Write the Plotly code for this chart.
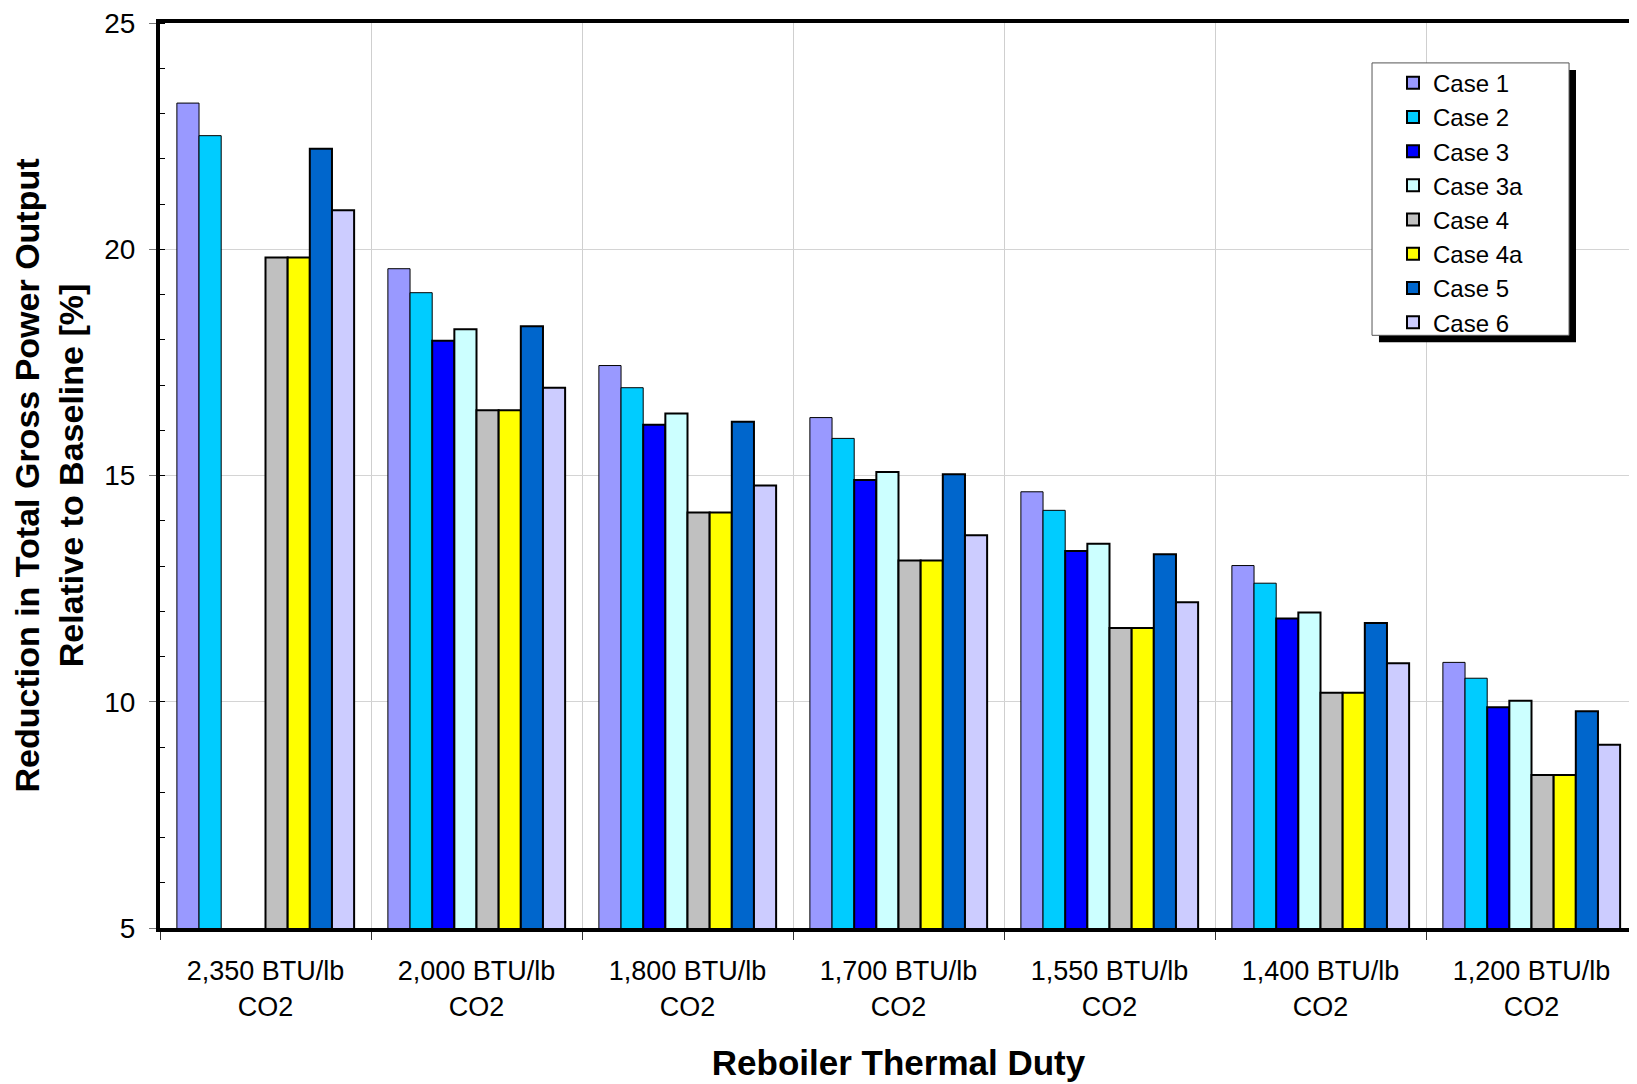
import plotly.graph_objects as go

categories = ["2,350 BTU/lb<br>CO2", "2,000 BTU/lb<br>CO2", "1,800 BTU/lb<br>CO2",
              "1,700 BTU/lb<br>CO2", "1,550 BTU/lb<br>CO2", "1,400 BTU/lb<br>CO2",
              "1,200 BTU/lb<br>CO2"]

case_1 = [23.23, 19.57, 17.43, 16.28, 14.64, 13.01, 10.87]
case_2 = [22.51, 19.04, 16.94, 15.82, 14.23, 12.62, 10.52]
case_3 = [None, 17.98, 16.12, 14.90, 13.33, 11.84, 9.88]
case_3a = [None, 18.23, 16.37, 15.08, 13.49, 11.97, 10.02]
case_4 = [19.82, 16.44, 14.18, 13.12, 11.63, 10.20, 8.38]
case_4a = [19.82, 16.44, 14.18, 13.12, 11.63, 10.20, 8.38]
case_5 = [22.22, 18.30, 16.19, 15.03, 13.26, 11.74, 9.79]
case_6 = [20.86, 16.94, 14.78, 13.68, 12.20, 10.85, 9.05]

series_names = ["Case 1", "Case 2", "Case 3", "Case 3a", "Case 4", "Case 4a", "Case 5", "Case 6"]
series_values = [case_1, case_2, case_3, case_3a, case_4, case_4a, case_5, case_6]
colors = ["#9999FF", "#00CCFF", "#0000FF", "#CCFFFF", "#C0C0C0", "#FFFF00", "#0066CC", "#CCCCFF"]
outline_w = [1, 1, 2, 2, 2, 2, 2, 2]

FONT = "Liberation Sans, Arial, sans-serif"

fig = go.Figure()
for name, vals, col, lw in zip(series_names, series_values, colors, outline_w):
    fig.add_trace(go.Bar(
        x=categories, y=vals, name=name,
        marker=dict(color=col, line=dict(color="black", width=lw)),
    ))

fig.update_layout(
    width=1629, height=1076,
    margin=dict(l=152, r=0, t=13, b=156),
    paper_bgcolor="white", plot_bgcolor="white",
    barmode="group", bargap=0.16, bargroupgap=0,
    font=dict(family=FONT, size=27, color="black"),
    showlegend=True,
    legend=dict(
        x=0.8348, y=0.9584, xanchor="left", yanchor="top",
        bgcolor="rgba(0,0,0,0)", borderwidth=0,
        font=dict(family=FONT, size=24, color="black"),
        tracegroupgap=0, itemsizing="constant",
    ),
    xaxis=dict(
        type="category", tickson="boundaries",
        ticks="outside", ticklen=8, tickcolor="#333333", tickwidth=1,
        showgrid=True, gridcolor="#CFCFCF", gridwidth=1,
        showline=True, linecolor="black", linewidth=4, mirror=True,
        tickfont=dict(family=FONT, size=27),
        ticklabelstandoff=16,
        title=dict(text="<b>Reboiler Thermal Duty</b>", font=dict(family=FONT, size=35), standoff=31),
    ),
    yaxis=dict(
        range=[5, 25], tickmode="linear", tick0=5, dtick=5,
        ticks="outside", ticklen=7, tickcolor="#777777", tickwidth=1,
        minor=dict(ticks="inside", dtick=1, ticklen=5, tickcolor="black", tickwidth=1, showgrid=False),
        showgrid=True, gridcolor="#D4D4D4", gridwidth=1,
        showline=True, linecolor="black", linewidth=4, mirror=False,
        zeroline=False,
        tickfont=dict(family=FONT, size=28),
        ticklabelstandoff=8, ticklabeloverflow="allow",
        title=dict(text="<b>Reduction in Total Gross Power Output<br>Relative to Baseline [%]</b>",
                   font=dict(family=FONT, size=34), standoff=18),
    ),
    shapes=[
        dict(type="line", xref="paper", yref="paper", x0=1, x1=1, y0=0, y1=1,
             line=dict(color="#999999", width=1)),
        dict(type="rect", xref="paper", yref="paper", x0=0.8253, x1=0.9587, y0=0.6472, y1=0.9482,
             fillcolor="black", line=dict(width=0), layer="above"),
        dict(type="rect", xref="paper", yref="paper", x0=0.8206, x1=0.9540, y0=0.6549, y1=0.9559,
             fillcolor="white", line=dict(color="#555555", width=1), layer="above"),
    ],
)

fig.write_html("out.html")
